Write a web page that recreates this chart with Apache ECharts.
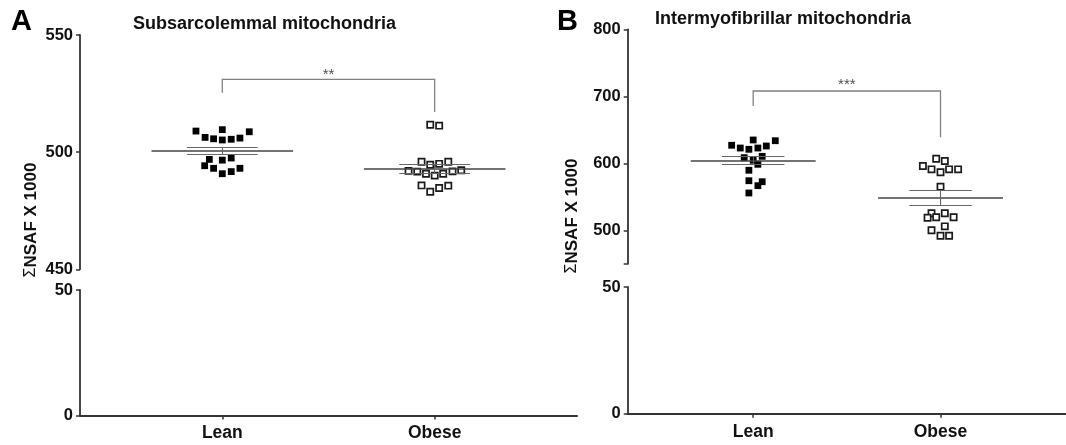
<!DOCTYPE html>
<html>
<head>
<meta charset="utf-8">
<script src="https://cdn.jsdelivr.net/npm/echarts@6/dist/echarts.min.js"></script>
<style>
html, body { margin: 0; padding: 0; background: #fff; }
#chart { width: 1066px; height: 445px; }
</style>
</head>
<body>
<div id="chart"></div>
<script>
const groups = ['Lean', 'Obese']

// A: subsarcolemmal mitochondria
const ssLean = [509.0, 509.6, 508.7, 506.3, 505.7, 505.2, 505.5, 506.0, 496.9, 496.6, 497.5, 494.2, 493.1, 490.8, 491.7, 493.1]
const ssLeanJitter = [-0.124, 0, 0.127, -0.081, -0.041, 0, 0.042, 0.083, -0.061, 0, 0.042, -0.083, -0.041, 0, 0.042, 0.083]
const ssObese = [511.7, 511.3, 495.9, 494.6, 495.0, 495.9, 492.0, 491.7, 490.8, 490.0, 490.8, 491.8, 492.3, 485.8, 483.1, 484.7, 485.7]
const ssObeseJitter = [-0.021, 0.021, -0.062, -0.021, 0.021, 0.064, -0.123, -0.082, -0.041, 0, 0.040, 0.084, 0.125, -0.062, -0.021, 0.021, 0.064]
const ssMean = [500.6, 492.9]
const ssSem = [1.7, 2.0]
const ssBracket = [525.4, 531.1, 517.1]  // left leg end, bar, right leg end
const ssStars = '**'

// B: intermyofibrillar mitochondria
const imfLean = [626.9, 622.8, 620.9, 634.8, 622.8, 625.8, 633.7, 608.4, 604.5, 598.5, 610.4, 589.6, 574.0, 572.5, 566.6, 555.7]
const imfLeanJitter = [-0.115, -0.069, -0.023, 0, 0.025, 0.070, 0.118, -0.048, 0, 0.025, 0.048, -0.023, -0.023, 0.048, 0.025, -0.023]
const imfObese = [606.9, 603.4, 596.0, 591.0, 586.6, 591.0, 591.0, 565.1, 525.4, 519.4, 518.8, 525.4, 519.4, 505.9, 500.0, 491.9, 491.9]
const imfObeseJitter = [-0.023, 0.023, -0.094, -0.048, 0, 0.046, 0.094, 0, -0.048, -0.023, -0.069, 0.023, 0.070, 0.023, -0.048, 0, 0.046]
const imfMean = [604.2, 548.2]
const imfSem = [6.0, 10.9]
const imfBracket = [685.5, 707.9, 638.8]
const imfStars = '***'

// broken y axis ticks
const ssTopTicks = [450, 500, 550]
const ssTopLabels = [450, 500, 550]
const imfTopTicks = [450, 500, 600, 700, 800]
const imfTopLabels = [500, 600, 700, 800]
const lowTicks = [0, 50]

const font = 'Liberation Sans, Arial, Helvetica, sans-serif'
const axisColor = '#333'

function xAxis (grid, bottom) {
  return {
    type: 'value', gridIndex: grid, min: 0.33, max: 2.67, show: bottom,
    splitLine: { show: false },
    axisLine: { show: bottom, lineStyle: { color: axisColor, width: 2 } },
    axisTick: { show: bottom, length: 4, customValues: [1, 2], lineStyle: { color: axisColor, width: 1.5 } },
    axisLabel: {
      show: bottom, customValues: [1, 2], margin: 9,
      formatter: v => groups[Math.round(v) - 1],
      color: '#111', fontSize: 17.5, fontWeight: 'bold', fontFamily: font
    }
  }
}

function yAxis (grid, min, max, ticks, labels) {
  return {
    type: 'value', gridIndex: grid, min: min, max: max,
    splitLine: { show: false },
    axisLine: { show: true, lineStyle: { color: axisColor, width: 1.8 } },
    axisTick: { show: true, length: 4, customValues: ticks, lineStyle: { color: axisColor, width: 1.5 } },
    axisLabel: {
      customValues: labels, margin: 7,
      color: '#111', fontSize: 16.5, fontWeight: 'bold', fontFamily: font
    }
  }
}

function points (vals, jitter, c) {
  return vals.map((v, i) => [c + jitter[i], v])
}

function meanSem (mean, sem) {
  const segs = []
  mean.forEach((m, i) => {
    const c = i + 1
    const s = sem[i]
    segs.push({ coords: [[c - 1 / 3, m], [c + 1 / 3, m]], lineStyle: { color: '#444', width: 1.6 } })
    segs.push({ coords: [[c - 1 / 6, m + s], [c + 1 / 6, m + s]] })
    segs.push({ coords: [[c - 1 / 6, m - s], [c + 1 / 6, m - s]] })
    segs.push({ coords: [[c, m - s], [c, m + s]] })
  })
  return segs
}

function panelSeries (grid, lean, leanJ, obese, obeseJ, mean, sem, bracket, stars, starY) {
  return [
    {
      type: 'scatter', xAxisIndex: grid, yAxisIndex: grid, z: 3,
      symbol: 'rect', symbolSize: 6.8,
      itemStyle: { color: '#000', opacity: 1 },
      data: points(lean, leanJ, 1)
    },
    {
      type: 'scatter', xAxisIndex: grid, yAxisIndex: grid, z: 3,
      symbol: 'rect', symbolSize: 6.2,
      itemStyle: { color: '#fff', borderColor: '#1a1a1a', borderWidth: 1.7, opacity: 1 },
      data: points(obese, obeseJ, 2)
    },
    {
      type: 'lines', coordinateSystem: 'cartesian2d', xAxisIndex: grid, yAxisIndex: grid, z: 4,
      polyline: false,
      lineStyle: { color: '#666', width: 1.1, opacity: 1 },
      data: meanSem(mean, sem)
    },
    {
      type: 'lines', coordinateSystem: 'cartesian2d', xAxisIndex: grid, yAxisIndex: grid, z: 4,
      polyline: true,
      lineStyle: { color: '#808080', width: 1.3, opacity: 1 },
      data: [{ coords: [[1, bracket[0]], [1, bracket[1]], [2, bracket[1]], [2, bracket[2]]] }]
    },
    {
      type: 'scatter', xAxisIndex: grid, yAxisIndex: grid, z: 5,
      symbolSize: 1, itemStyle: { color: 'rgba(0,0,0,0)' },
      label: { show: true, position: 'inside', formatter: stars, color: '#222', fontSize: 15, fontFamily: font },
      data: [[1.5, starY]]
    }
  ]
}

const chart = echarts.init(document.getElementById('chart'), null, { renderer: 'canvas' })
chart.setOption({
  animation: false,
  backgroundColor: '#fff',
  grid: [
    { left: 80, top: 35, width: 497, height: 234.3 },
    { left: 80, top: 290, width: 497, height: 125.5 },
    { left: 627.7, top: 29.3, width: 442, height: 234.5 },
    { left: 627.7, top: 287, width: 442, height: 126.7 }
  ],
  xAxis: [xAxis(0, false), xAxis(1, true), xAxis(2, false), xAxis(3, true)],
  yAxis: [
    yAxis(0, 450, 550, ssTopTicks, ssTopLabels),
    yAxis(1, 0, 50, lowTicks, lowTicks),
    yAxis(2, 450, 800, imfTopTicks, imfTopLabels),
    yAxis(3, 0, 50, lowTicks, lowTicks)
  ],
  series: [
    ...panelSeries(0, ssLean, ssLeanJitter, ssObese, ssObeseJitter, ssMean, ssSem, ssBracket, ssStars, 533.0),
    ...panelSeries(2, imfLean, imfLeanJitter, imfObese, imfObeseJitter, imfMean, imfSem, imfBracket, imfStars, 716.5)
  ],
  graphic: [
    { type: 'text', left: 11, top: 7, style: { text: 'A', fontSize: 29, fontWeight: 'bold', fontFamily: font, fill: '#000' } },
    { type: 'text', left: 557, top: 7, style: { text: 'B', fontSize: 29, fontWeight: 'bold', fontFamily: font, fill: '#000' } },
    { type: 'text', left: 133, top: 15, style: { text: 'Subsarcolemmal mitochondria', fontSize: 18, fontWeight: 'bold', fontFamily: font, fill: '#111' } },
    { type: 'text', left: 655, top: 10, style: { text: 'Intermyofibrillar mitochondria', fontSize: 18, fontWeight: 'bold', fontFamily: font, fill: '#111' } },
    {
      type: 'text', x: 31, y: 220, rotation: Math.PI / 2,
      style: {
        text: '{s|Σ}NSAF X 1000', align: 'center', verticalAlign: 'middle',
        fontSize: 17, fontWeight: 'bold', fontFamily: font, fill: '#111',
        rich: { s: { fontSize: 16, fontWeight: 'normal', fontFamily: font, fill: '#111' } }
      }
    },
    {
      type: 'text', x: 572, y: 216, rotation: Math.PI / 2,
      style: {
        text: '{s|Σ}NSAF X 1000', align: 'center', verticalAlign: 'middle',
        fontSize: 17, fontWeight: 'bold', fontFamily: font, fill: '#111',
        rich: { s: { fontSize: 16, fontWeight: 'normal', fontFamily: font, fill: '#111' } }
      }
    }
  ]
})
</script>
</body>
</html>
